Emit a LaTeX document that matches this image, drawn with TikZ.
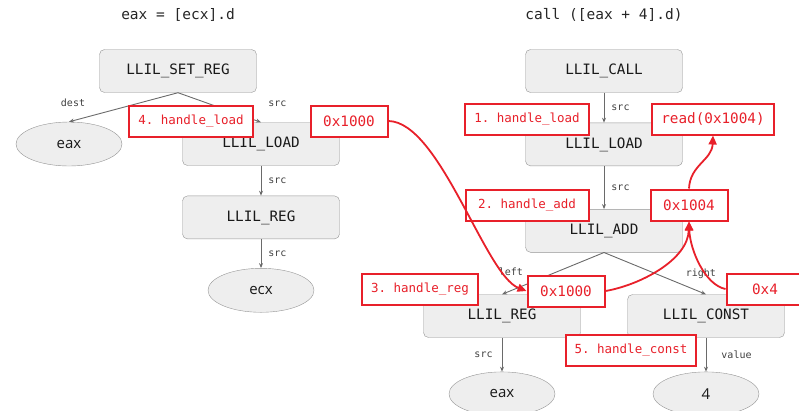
\documentclass[tikz,border=0pt]{standalone}
\usepackage{fontspec}
\setmonofont{DejaVu Sans Mono}
\setsansfont{Open Sans}
\usepackage{tikz}
\usetikzlibrary{shapes, arrows.meta, positioning, calc}
\definecolor{boxfill}{HTML}{EEEEEE}
\definecolor{boxline}{HTML}{949494}
\definecolor{edgegray}{HTML}{6A6A6A}
\definecolor{hlred}{HTML}{E8202A}

\begin{document}
\begin{tikzpicture}[
        x=1pt, y=-1pt,
        >={Stealth[length=5pt, width=4pt]},
        font=\ttfamily,
        title/.style={font=\ttfamily\fontsize{14.5}{17}\selectfont, text=black!85},
        op/.style={rectangle, draw=boxline, fill=boxfill, rounded corners=5pt, minimum width=157pt, minimum height=43pt, font=\ttfamily\fontsize{14.3}{16}\selectfont, text=black!90},
        leaf/.style={ellipse, draw=boxline, fill=boxfill, minimum width=106pt, minimum height=44pt, inner sep=0pt, font=\sffamily\fontsize{15}{18}\selectfont, text=black!90},
        link/.style={->, draw=edgegray, line width=0.9pt},
        lbl/.style={font=\ttfamily\fontsize{10}{12}\selectfont, text=black!75, inner sep=3pt, inner xsep=7pt},
        hl/.style={rectangle, draw=hlred, fill=white, line width=2pt, text=hlred, minimum height=31pt, inner xsep=9pt},
        stepbox/.style={hl, font=\ttfamily\fontsize{12.5}{15}\selectfont},
        valbox/.style={hl, minimum width=77pt, font=\ttfamily\fontsize{14.3}{16}\selectfont},
        flow/.style={-{Triangle[length=9pt, width=8pt]}, draw=hlred, line width=1.8pt}
    ]
    \useasboundingbox (0,0) rectangle (799,410);

    % --- Left tree: eax = [ecx].d ---
    \node (titleL) [title] at (178,15) {eax = [ecx].d};
    \node (setreg) [op] at (178,71) {LLIL\_SET\_REG};
    \node (eaxL) [leaf] at (69,144) {eax};
    \node (loadL) [op] at (261,144) {LLIL\_LOAD};
    \node (regL) [op, below=30pt of loadL] {LLIL\_REG};
    \node (ecx) [leaf, below=29pt of regL] {ecx};

    \draw[link] (setreg.south) -- node[lbl, pos=1, above, yshift=12pt, xshift=4pt] {dest} (eaxL.north);
    \draw[link] (setreg.south) -- node[lbl, pos=1, above right, yshift=12pt] {src} (loadL.north);
    \draw[link] (loadL) -- node[lbl, right] {src} (regL);
    \draw[link] (regL) -- node[lbl, right] {src} (ecx);

    % --- Right tree: call ([eax + 4].d) ---
    \node (titleR) [title] at (604,15) {call ([eax + 4].d)};
    \node (call) [op] at (604,71) {LLIL\_CALL};
    \node (loadR) [op, below=30pt of call] {LLIL\_LOAD};
    \node (add) [op, below=43pt of loadR] {LLIL\_ADD};
    \node (regR) [op] at (502,316) {LLIL\_REG};
    \node (const) [op] at (706,316) {LLIL\_CONST};
    \node (eaxR) [leaf, below=34pt of regR] {eax};
    \node (four) [leaf, below=34pt of const] {4};

    \draw[link] (call) -- node[lbl, right] {src} (loadR);
    \draw[link] (loadR) -- node[lbl, right] {src} (add);
    \draw[link] (add.south) -- node[lbl, pos=0.8, above left, yshift=7pt, xshift=8pt] {left} (regR.north);
    \draw[link] (add.south) -- node[lbl, pos=0.95, above, yshift=10pt] {right} (const.north);
    \draw[link] (regR) -- node[lbl, left, xshift=-2pt] {src} (eaxR);
    \draw[link] (const) -- node[lbl, right, xshift=8pt] {value} (four);

    % --- Evaluation steps ---
    \node (hload4) [stepbox] at (191,121) {4. handle\_load};
    \node (v1000a) [valbox] at (349,121) {0x1000};
    \node (hload1) [stepbox] at (527,119) {1. handle\_load};
    \node (vread) [valbox] at (713,119) {read(0x1004)};
    \node (hadd) [stepbox, minimum width=123pt] at (527,205) {2. handle\_add};
    \node (v1004) [valbox] at (689,205) {0x1004};
    \node (hreg) [stepbox] at (420,289) {3. handle\_reg};
    \node (v1000b) [valbox] at (566,291) {0x1000};
    \node (v4) [valbox] at (765,289) {0x4};
    \node (hconst) [stepbox] at (631,350) {5. handle\_const};

    % --- Value flow ---
    \draw[flow] (v1000a.east) .. controls (440,122) and (485,275) .. (v1000b.west);
    \draw[flow] (v1000b.east) .. controls (640,285) and (688,260) .. (v1004.south);
    \draw[flow] (v4.west) .. controls (705,285) and (690,250) .. (v1004.south);
    \draw[flow] (v1004.north) .. controls (690,165) and (712,160) .. (vread.south);

\end{tikzpicture}
\end{document}
